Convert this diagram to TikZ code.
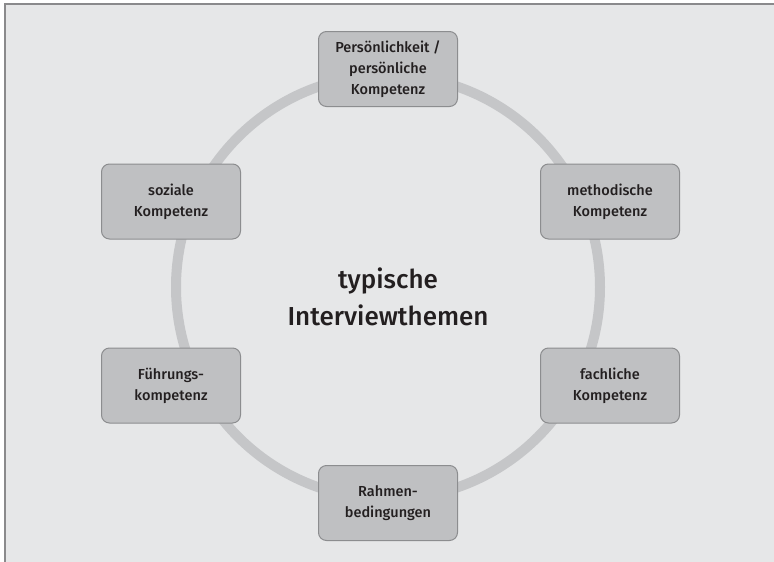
\documentclass[tikz,border=0pt]{standalone}
\usepackage{fontspec}
\setmainfont{Fira Sans}[UprightFont={* Medium}]
\definecolor{bg}{HTML}{E6E7E8}
\definecolor{boxfill}{HTML}{BFC0C2}
\definecolor{boxline}{HTML}{8C8D8F}
\definecolor{ring}{HTML}{C5C6C8}
\definecolor{txt}{HTML}{231F20}
\definecolor{frame}{HTML}{8A8A8C}
\begin{document}
\begin{tikzpicture}[x=1pt,y=-1pt,
  topic/.style={draw=boxline, fill=boxfill, line width=1pt, rounded corners=8pt,
    minimum width=139pt, minimum height=75pt, inner sep=0pt, align=center,
    text=txt, font=\fontsize{14.5}{21}\selectfont}]
\useasboundingbox (0,0) rectangle (774,562);
\fill[white] (0,0) rectangle (774,562);
\fill[bg] (5,4) rectangle (774,562);
\draw[frame, line width=1.3pt] (5,562) -- (5,4) -- (774,4);
\coordinate (c) at (388,287);
\draw[ring, line width=10pt] (c) circle[radius=212];
\node[text=txt, align=center, font=\fontsize{26}{37}\selectfont] (center) at (388,297) {typische\\Interviewthemen};
\node[topic] (pers) at (388,69) {Persönlichkeit /\\persönliche\\Kompetenz};
\node[topic] (meth) at (610,201.5) {methodische\\Kompetenz};
\node[topic] (fach) at (610,385.5) {fachliche\\Kompetenz};
\node[topic] (rahm) at (388,503) {Rahmen-\\bedingungen};
\node[topic] (fuehr) at (171,385.5) {Führungs-\\kompetenz};
\node[topic] (soz) at (171,201.5) {soziale\\Kompetenz};
\end{tikzpicture}
\end{document}
